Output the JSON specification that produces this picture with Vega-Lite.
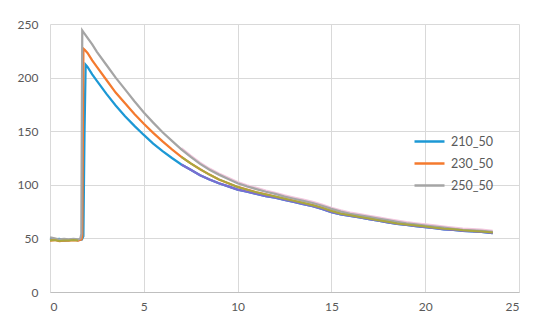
{
  "$schema": "https://vega.github.io/schema/vega-lite/v6.json",
  "autosize": {"type": "none"},
  "padding": {"left": 50, "top": 24, "right": 31, "bottom": 44},
  "width": 469,
  "height": 268,
  "background": "white",
  "datasets": {
    "main": [
      {"s":"210_50","x":0,"y":50},{"s":"210_50","x":0.25,"y":49},{"s":"210_50","x":0.5,"y":49.5},{"s":"210_50","x":0.75,"y":48},{"s":"210_50","x":1,"y":48.5},{"s":"210_50","x":1.25,"y":49},{"s":"210_50","x":1.5,"y":48.5},{"s":"210_50","x":1.7,"y":49},{"s":"210_50","x":1.78,"y":52},{"s":"210_50","x":1.84,"y":150},{"s":"210_50","x":1.9,"y":212},{"s":"210_50","x":2.0,"y":210},{"s":"210_50","x":2.25,"y":203},{"s":"210_50","x":2.5,"y":197},{"s":"210_50","x":3,"y":185},{"s":"210_50","x":3.5,"y":174},{"s":"210_50","x":4,"y":164},{"s":"210_50","x":4.5,"y":155},{"s":"210_50","x":5,"y":146.5},{"s":"210_50","x":5.5,"y":138.5},{"s":"210_50","x":6,"y":131.5},{"s":"210_50","x":6.5,"y":125},{"s":"210_50","x":7,"y":119},{"s":"210_50","x":7.5,"y":114},{"s":"210_50","x":8,"y":109},{"s":"210_50","x":8.5,"y":105},{"s":"210_50","x":9,"y":101.5},{"s":"210_50","x":9.5,"y":98.5},{"s":"210_50","x":10,"y":95.5},{"s":"210_50","x":10.5,"y":93.5},{"s":"210_50","x":11,"y":91.5},{"s":"210_50","x":11.5,"y":89.5},{"s":"210_50","x":12,"y":88},{"s":"210_50","x":12.5,"y":86},{"s":"210_50","x":13,"y":84},{"s":"210_50","x":13.5,"y":82},{"s":"210_50","x":14,"y":80},{"s":"210_50","x":14.5,"y":77.5},{"s":"210_50","x":15,"y":74.5},{"s":"210_50","x":15.5,"y":72.5},{"s":"210_50","x":16,"y":71},{"s":"210_50","x":16.5,"y":69.5},{"s":"210_50","x":17,"y":68},{"s":"210_50","x":17.5,"y":66.5},{"s":"210_50","x":18,"y":65},{"s":"210_50","x":18.5,"y":63.5},{"s":"210_50","x":19,"y":62.5},{"s":"210_50","x":19.5,"y":61.5},{"s":"210_50","x":20,"y":60.5},{"s":"210_50","x":20.5,"y":59.5},{"s":"210_50","x":21,"y":58.5},{"s":"210_50","x":21.5,"y":58},{"s":"210_50","x":22,"y":57},{"s":"210_50","x":22.5,"y":56.5},{"s":"210_50","x":23,"y":56},{"s":"210_50","x":23.6,"y":55},
      {"s":"230_50","x":0,"y":48},{"s":"230_50","x":0.25,"y":48.5},{"s":"230_50","x":0.5,"y":47.5},{"s":"230_50","x":0.75,"y":48},{"s":"230_50","x":1,"y":48},{"s":"230_50","x":1.25,"y":48.5},{"s":"230_50","x":1.5,"y":48},{"s":"230_50","x":1.68,"y":49},{"s":"230_50","x":1.72,"y":52},{"s":"230_50","x":1.78,"y":227},{"s":"230_50","x":1.85,"y":226},{"s":"230_50","x":2.0,"y":223},{"s":"230_50","x":2.25,"y":216},{"s":"230_50","x":2.5,"y":210},{"s":"230_50","x":3,"y":198},{"s":"230_50","x":3.5,"y":186},{"s":"230_50","x":4,"y":176},{"s":"230_50","x":4.5,"y":166},{"s":"230_50","x":5,"y":157},{"s":"230_50","x":5.5,"y":148.5},{"s":"230_50","x":6,"y":140.5},{"s":"230_50","x":6.5,"y":133},{"s":"230_50","x":7,"y":126},{"s":"230_50","x":7.5,"y":120},{"s":"230_50","x":8,"y":114.5},{"s":"230_50","x":8.5,"y":109.5},{"s":"230_50","x":9,"y":105},{"s":"230_50","x":9.5,"y":101.5},{"s":"230_50","x":10,"y":98},{"s":"230_50","x":10.5,"y":95.5},{"s":"230_50","x":11,"y":93},{"s":"230_50","x":11.5,"y":91},{"s":"230_50","x":12,"y":89},{"s":"230_50","x":12.5,"y":87},{"s":"230_50","x":13,"y":85},{"s":"230_50","x":13.5,"y":83},{"s":"230_50","x":14,"y":81},{"s":"230_50","x":14.5,"y":78.5},{"s":"230_50","x":15,"y":75.5},{"s":"230_50","x":15.5,"y":73},{"s":"230_50","x":16,"y":71.5},{"s":"230_50","x":16.5,"y":70},{"s":"230_50","x":17,"y":68.5},{"s":"230_50","x":17.5,"y":67},{"s":"230_50","x":18,"y":65.5},{"s":"230_50","x":18.5,"y":64},{"s":"230_50","x":19,"y":63},{"s":"230_50","x":19.5,"y":62},{"s":"230_50","x":20,"y":61},{"s":"230_50","x":20.5,"y":60},{"s":"230_50","x":21,"y":59},{"s":"230_50","x":21.5,"y":58.5},{"s":"230_50","x":22,"y":57.5},{"s":"230_50","x":22.5,"y":57},{"s":"230_50","x":23,"y":56.5},{"s":"230_50","x":23.6,"y":55.5},
      {"s":"250_50","x":0,"y":51},{"s":"250_50","x":0.25,"y":50},{"s":"250_50","x":0.5,"y":49},{"s":"250_50","x":0.75,"y":49.5},{"s":"250_50","x":1,"y":49},{"s":"250_50","x":1.25,"y":49.5},{"s":"250_50","x":1.5,"y":49},{"s":"250_50","x":1.62,"y":50},{"s":"250_50","x":1.67,"y":54},{"s":"250_50","x":1.72,"y":244},{"s":"250_50","x":1.8,"y":242},{"s":"250_50","x":2.0,"y":237},{"s":"250_50","x":2.25,"y":231},{"s":"250_50","x":2.5,"y":224},{"s":"250_50","x":3,"y":212},{"s":"250_50","x":3.5,"y":200},{"s":"250_50","x":4,"y":189},{"s":"250_50","x":4.5,"y":178},{"s":"250_50","x":5,"y":167.5},{"s":"250_50","x":5.5,"y":158},{"s":"250_50","x":6,"y":149},{"s":"250_50","x":6.5,"y":141},{"s":"250_50","x":7,"y":133},{"s":"250_50","x":7.5,"y":126},{"s":"250_50","x":8,"y":119.5},{"s":"250_50","x":8.5,"y":114},{"s":"250_50","x":9,"y":109.5},{"s":"250_50","x":9.5,"y":105.5},{"s":"250_50","x":10,"y":101.5},{"s":"250_50","x":10.5,"y":98.5},{"s":"250_50","x":11,"y":96},{"s":"250_50","x":11.5,"y":93.5},{"s":"250_50","x":12,"y":91.5},{"s":"250_50","x":12.5,"y":89},{"s":"250_50","x":13,"y":87},{"s":"250_50","x":13.5,"y":85},{"s":"250_50","x":14,"y":83},{"s":"250_50","x":14.5,"y":80.5},{"s":"250_50","x":15,"y":77.5},{"s":"250_50","x":15.5,"y":75},{"s":"250_50","x":16,"y":73},{"s":"250_50","x":16.5,"y":71.5},{"s":"250_50","x":17,"y":70},{"s":"250_50","x":17.5,"y":68.5},{"s":"250_50","x":18,"y":67},{"s":"250_50","x":18.5,"y":65.5},{"s":"250_50","x":19,"y":64},{"s":"250_50","x":19.5,"y":63},{"s":"250_50","x":20,"y":62},{"s":"250_50","x":20.5,"y":61},{"s":"250_50","x":21,"y":60},{"s":"250_50","x":21.5,"y":59},{"s":"250_50","x":22,"y":58},{"s":"250_50","x":22.5,"y":57.5},{"s":"250_50","x":23,"y":57},{"s":"250_50","x":23.6,"y":56}
    ]
  },
  "data": {"name": "main"},
  "encoding": {
    "x": {"field": "x", "type": "quantitative", "scale": {"domain": [0, 25], "nice": false},
          "axis": {"values": [0, 5, 10, 15, 20, 25], "title": null, "labelPadding": 9, "domain": true, "domainColor": "#BFBFBF", "domainWidth": 1.2}},
    "y": {"field": "y", "type": "quantitative", "scale": {"domain": [0, 250], "nice": false},
          "axis": {"values": [0, 50, 100, 150, 200, 250], "title": null, "labelPadding": 12, "domain": false}}
  },
  "layer": [
    {
      "transform": [{"filter": "datum.s == '250_50' && datum.x >= 7"}],
      "mark": {"type": "line", "color": "#F2C6DD", "strokeWidth": 2, "yOffset": -1.3}
    },
    {
      "mark": {"type": "line", "strokeWidth": 2.25},
      "encoding": {
        "color": {"field": "s", "type": "nominal",
          "scale": {"domain": ["210_50", "230_50", "250_50"], "range": ["#1C98D5", "#F47A2E", "#A5A5A5"]},
          "legend": {"title": null, "orient": "none", "legendX": 368, "legendY": 106, "symbolType": "M-1.5,0H1.5", "symbolSize": 400, "symbolStrokeWidth": 2.5, "labelOffset": 10, "labelFontSize": 12.5, "labelFont": "Lato", "labelColor": "#595959", "rowPadding": 4, "padding": 0}
        }
      }
    },
    {
      "transform": [{"filter": "datum.s == '210_50' && datum.x >= 7"}],
      "mark": {"type": "line", "color": "#7A6DD0", "strokeWidth": 2.25}
    },
    {
      "transform": [{"filter": "datum.s == '230_50' && datum.x >= 7"}],
      "mark": {"type": "line", "color": "#A9A83E", "strokeWidth": 2}
    },
    {
      "transform": [{"filter": "datum.s == '230_50' && datum.x <= 1.6"}],
      "mark": {"type": "line", "color": "#A9A83E", "strokeWidth": 2}
    }
  ],
  "config": {
    "view": {"stroke": null},
    "axis": {"labelFont": "Lato", "labelFontSize": 12, "labelColor": "#595959", "ticks": false, "gridColor": "#D9D9D9", "gridWidth": 1}
  }
}
